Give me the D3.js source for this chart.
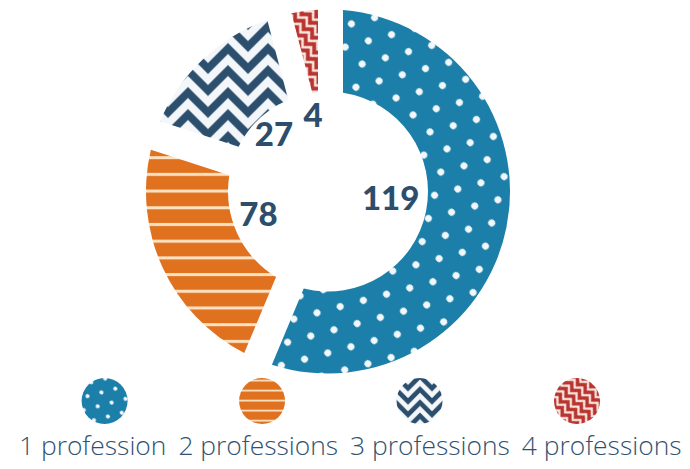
<!DOCTYPE html>
<html>
<head>
<meta charset="utf-8">
<script src="https://cdn.jsdelivr.net/npm/d3@7"></script>
<style>
  html, body { margin: 0; padding: 0; background: #ffffff; }
  svg { display: block; }
</style>
</head>
<body>
<svg id="chart" width="690" height="469"></svg>
<script>
// ---- data ----
const categories = ["1 profession", "2 professions", "3 professions", "4 professions"];
const counts = [119, 78, 27, 4];
// share of the ring each slice occupies as drawn in the picture (%)
const drawnShare = [56.3, 23.7, 15.9, 4.1];

// ---- styles ----
const baseColors = ["#1b7fa9", "#e0711f", "#2d4f6e", "#b9332f"];
const textColor = "#2c4e6c";
const legendTextColor = "#2f5270";

const W = 690, H = 469;
const cx = 328, cy = 191.5;
const outerR = 182, innerR = 100, gap = 30, smallGap = 20;

const svg = d3.select("#chart");
const defs = svg.append("defs");

const soft = defs.append("filter").attr("id", "soft")
  .attr("x", "-50%").attr("y", "-50%").attr("width", "200%").attr("height", "200%");
soft.append("feGaussianBlur").attr("stdDeviation", 0.6);

function makePatterns(suffix, s, sRed) {
  // dots (hex lattice rotated 45deg)
  const dp = defs.append("pattern").attr("id", "dots" + suffix)
    .attr("patternUnits", "userSpaceOnUse")
    .attr("width", 24).attr("height", 41.57)
    .attr("patternTransform", `scale(${s}) rotate(45)`);
  dp.append("rect").attr("width", 24).attr("height", 41.57).attr("fill", baseColors[0]);
  [[6, 10.4], [18, 31.18], [-6, 31.18], [30, 10.4]].forEach(p =>
    dp.append("circle").attr("cx", p[0]).attr("cy", p[1]).attr("r", 3.5)
      .attr("fill", "#f2f7fa").attr("filter", "url(#soft)"));

  // horizontal stripes
  const sp = defs.append("pattern").attr("id", "stripes" + suffix)
    .attr("patternUnits", "userSpaceOnUse")
    .attr("width", 20).attr("height", 16.7)
    .attr("patternTransform", `scale(${s})`);
  sp.append("rect").attr("width", 20).attr("height", 16.7).attr("fill", baseColors[1]);
  sp.append("rect").attr("y", 14.8).attr("width", 20).attr("height", 3).attr("fill", "#fbe2c2");
  sp.append("rect").attr("y", -1.9).attr("width", 20).attr("height", 3).attr("fill", "#fbe2c2");

  // chevrons
  const cp = defs.append("pattern").attr("id", "chevron" + suffix)
    .attr("patternUnits", "userSpaceOnUse")
    .attr("width", 40).attr("height", 22)
    .attr("patternTransform", `scale(${s})`);
  cp.append("rect").attr("width", 40).attr("height", 22).attr("fill", baseColors[2]);
  [-22, 0, 22].forEach(o =>
    cp.append("path").attr("d", `M-20,${o} L0,${o + 20} L20,${o} L40,${o + 20} L60,${o}`)
      .attr("fill", "none").attr("stroke", "#f4f7fa").attr("stroke-width", 7.8));

  // step zigzag (red)
  const zp = defs.append("pattern").attr("id", "zigzag" + suffix)
    .attr("patternUnits", "userSpaceOnUse")
    .attr("width", 12).attr("height", 9)
    .attr("patternTransform", `scale(${sRed}) rotate(45)`);
  zp.append("rect").attr("width", 12).attr("height", 9).attr("fill", baseColors[3]);
  [-9, 0, 9].forEach(o =>
    zp.append("path").attr("d", `M-6,${o} L0,${o + 6} L6,${o} L12,${o + 6} L18,${o}`)
      .attr("fill", "none").attr("stroke", "#f7e3dc").attr("stroke-width", 2.6));
}

makePatterns("", 1, 1);
makePatterns("L", 0.6, 0.9);
const patIds = ["dots", "stripes", "chevron", "zigzag"];

// ---- donut ----
const pie = d3.pie().sort(null).value(i => drawnShare[i]);
const arcs = pie(d3.range(categories.length));

const arc = d3.arc()
  .innerRadius(innerR)
  .outerRadius(outerR)
  .padRadius(outerR)
  .padAngle(d => 2 * Math.asin(((d.data === categories.length - 1 ? smallGap : gap) / 2) / outerR));

const g = svg.append("g").attr("transform", `translate(${cx},${cy})`);
g.selectAll("path.slice").data(arcs).join("path")
  .attr("class", "slice")
  .attr("d", arc)
  .attr("fill", d => `url(#${patIds[d.data]})`);

// value labels
const labelArc = d3.arc().innerRadius(70).outerRadius(70);
const lg = svg.append("g").attr("transform", `translate(${cx - 6},${cy - 7})`);
lg.selectAll("text").data(arcs).join("text")
  .attr("transform", d => `translate(${labelArc.centroid(d)})`)
  .attr("text-anchor", "middle")
  .attr("dy", "0.36em")
  .attr("font-family", "Lato, 'Open Sans', sans-serif")
  .attr("font-weight", 900)
  .attr("font-size", 33)
  .attr("fill", textColor)
  .text(d => counts[d.data]);

// ---- legend ----
const xMarker = d3.scalePoint().domain(categories).range([104.6, 577]);
const leg = svg.append("g");
leg.selectAll("circle").data(categories).join("circle")
  .attr("cx", d => xMarker(d))
  .attr("cy", 401)
  .attr("r", 23)
  .attr("fill", (d, i) => `url(#${patIds[i]}L)`);

const legText = leg.selectAll("text").data(categories).join("text")
  .attr("y", 455)
  .attr("font-family", "'Open Sans', Lato, sans-serif")
  .attr("font-weight", 300)
  .attr("font-size", 26.4)
  .attr("fill", legendTextColor)
  .text(d => d);

let xCursor = 19;
legText.each(function () {
  const w = this.getComputedTextLength();
  d3.select(this).attr("x", xCursor);
  xCursor += w + 12;
});
</script>
</body>
</html>
